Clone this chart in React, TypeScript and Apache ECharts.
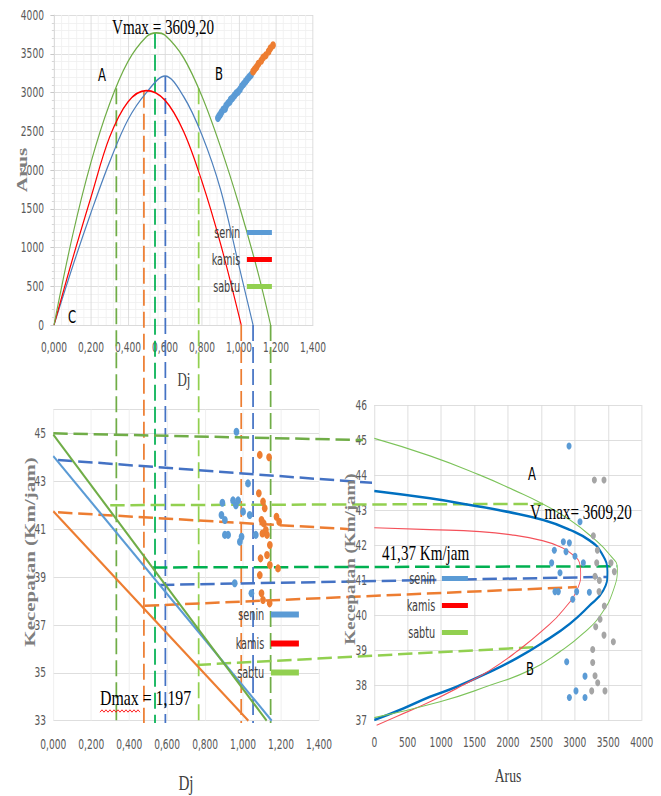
import React, { useEffect, useRef } from "react";
import * as echarts from "echarts";

// ---------------- data ----------------
// Panel 1 : Arus (flow) vs Dj (density)
const flowCurveSenin: number[][] = [[0, 0], [0.1, 750], [0.2, 1450], [0.3, 2100], [0.4, 2650], [0.5, 3000], [0.6, 3213], [0.7, 2950], [0.8, 2450], [0.9, 1750], [1.0, 760], [1.076, 0]];
const flowCurveKamis: number[][] = [[0, 0], [0.1, 850], [0.2, 1650], [0.3, 2420], [0.4, 2880], [0.499, 3024], [0.6, 2900], [0.7, 2500], [0.8, 1850], [0.9, 1050], [1.012, 0]];
const flowCurveSabtu: number[][] = [[0, 0], [0.1, 1150], [0.2, 2100], [0.3, 2850], [0.4, 3400], [0.5, 3720], [0.553, 3770], [0.6, 3740], [0.7, 3450], [0.8, 2950], [0.9, 2300], [1.0, 1550], [1.1, 700], [1.171, 0]];
const flowObsSenin: number[][] = [[0.886, 2670], [0.893, 2700], [0.9, 2720], [0.905, 2745], [0.915, 2780], [0.925, 2790], [0.93, 2830], [0.94, 2860], [0.95, 2880], [0.955, 2910], [0.965, 2930], [0.975, 2960], [0.985, 2990], [0.995, 3010], [1.005, 3040], [1.015, 3080], [1.025, 3110], [1.035, 3140], [1.045, 3170], [1.055, 3200], [1.065, 3225]];
const flowObsKamis: number[][] = [[1.076, 3270], [1.085, 3300], [1.095, 3330], [1.105, 3370], [1.12, 3410], [1.13, 3450], [1.145, 3480], [1.16, 3530], [1.17, 3570], [1.184, 3610]];

// Panel 2 : Kecepatan (speed) vs Dj
const speedLineSenin: number[][] = [[0, 44.05], [1.151, 33]];
const speedLineKamis: number[][] = [[0, 41.75], [1.028, 33]];
const speedLineSabtu: number[][] = [[0, 44.95], [1.124, 33]];
const speedObsSenin: number[][] = [[0.965, 45.07], [1.026, 42.91], [0.891, 42.1], [0.947, 42.2], [0.962, 42.0], [0.974, 42.2], [0.886, 41.59], [1.0, 41.73], [1.035, 41.59], [0.904, 41.38], [0.904, 40.76], [0.921, 40.76], [0.992, 40.68], [0.983, 40.47], [1.067, 40.76], [0.956, 38.74], [1.044, 38.32]];
const speedObsKamis: number[][] = [[1.088, 44.1], [1.137, 44.0], [1.083, 42.5], [1.105, 42.15], [1.114, 41.87], [1.097, 41.38], [1.109, 41.24], [1.12, 40.96], [1.102, 40.82], [1.126, 40.76], [1.176, 41.52], [1.19, 41.31], [1.141, 40.34], [1.126, 39.92], [1.092, 39.78], [1.184, 39.36], [1.141, 39.5], [1.088, 39.08], [1.097, 38.32], [1.105, 38.04], [1.14, 37.9]];

// Panel 3 : Kecepatan vs Arus
const vqCurveSenin: number[][] = [[0, 43.55], [833, 43.34], [1432, 43.15], [1980, 42.96], [2529, 42.72], [2928, 42.44], [3227, 42.13], [3402, 41.77], [3487, 41.25], [3427, 40.72], [3202, 40.25], [2928, 39.77], [2579, 39.3], [2130, 38.78], [1681, 38.35], [1232, 37.97], [833, 37.68], [434, 37.35], [0, 37.02]];
const vqCurveKamis: number[][] = [[0, 42.5], [833, 42.45], [1581, 42.39], [2080, 42.29], [2479, 42.15], [2778, 41.96], [2978, 41.72], [3077, 41.44], [3087, 41.2], [3052, 40.82], [2828, 40.16], [2529, 39.59], [2130, 38.97], [1731, 38.44], [1332, 38.02], [833, 37.54], [334, 37.12], [35, 36.87]];
const vqCurveSabtu: number[][] = [[0, 45.05], [833, 44.55], [1581, 44.0], [2080, 43.58], [2529, 43.17], [2928, 42.72], [3277, 42.2], [3527, 41.72], [3636, 41.34], [3576, 40.72], [3402, 40.06], [3127, 39.49], [2778, 38.97], [2329, 38.44], [1731, 38.01], [983, 37.54], [0, 37.09]];
const vqObsSenin: number[][] = [[2913, 44.83], [3077, 42.67], [2828, 42.1], [2918, 42.07], [2693, 41.86], [2868, 41.82], [3002, 41.69], [2653, 41.5], [3127, 41.5], [2778, 41.22], [2703, 40.68], [2753, 40.68], [3027, 40.68], [2968, 40.46], [3217, 40.66], [2878, 38.68], [3152, 38.27], [3017, 37.85], [2918, 37.66], [3152, 37.66]];
const vqObsSabtu: number[][] = [[3292, 43.86], [3436, 43.86], [3277, 42.27], [3337, 41.86], [3327, 41.5], [3541, 41.5], [3591, 41.25], [3302, 41.12], [3367, 41.0], [3362, 40.68], [3441, 40.27], [3377, 39.89], [3312, 39.68], [3436, 39.44], [3576, 39.25], [3267, 39.03], [3267, 38.66], [3302, 38.28], [3342, 38.08], [3252, 37.85], [3451, 37.85]];

// guide lines: vertical (Dj, Arus start) and horizontal (Dj,V in panel 2 -> Arus,V in panel 3)
const verticalGuideDj = [0.337, 0.486, 0.546, 0.602, 0.782, 1.012, 1.076, 1.171];
const verticalGuideArus = [3054, 3011, 3770, 3213, 3054, 0, 0, 0];
const verticalGuideColor = ["#70ad47", "#ed7d31", "#00b050", "#4472c4", "#92d050", "#ed7d31", "#4472c4", "#70ad47"];
const horizGuideDj = [0, 0.025, 0.3, 0.025, 0.525, 0.562, 0.482, 0.755];
const horizGuideV1 = [45.0, 43.89, 42.0, 41.7, 39.4, 38.67, 37.8, 35.33];
const horizGuideArus = [-170, -34, 2524, -365, 3633, 3479, 3030, 2446];
const horizGuideV2 = [45.0, 43.78, 43.18, 42.46, 41.4, 41.1, 40.81, 39.1];
const horizGuideColor = ["#70ad47", "#4472c4", "#92d050", "#ed7d31", "#00b050", "#4472c4", "#ed7d31", "#92d050"];

const legendNames = ["senin", "kamis", "sabtu"];

// ---------------- layout ----------------
const SX = 0.72;
const W = 661;
const H = 796;
const IW = W / SX;
const X = (v: number) => v / SX;
const SANS = "'Liberation Sans Narrow','Arial Narrow','DejaVu Sans Condensed',Roboto,sans-serif";
const SERIF = "'Liberation Serif','Times New Roman',serif";
const LBL = "#595959";
const GRID = "#d9d9d9";

const djFmt = (v: number) => v.toFixed(3).replace(".", ",");
const plainFmt = (v: number) => String(v);

function legendCfg(left: number, top: number, gap: number, w: number, h: number, colors: string[]) {
  return {
    orient: "vertical",
    left: X(left),
    top,
    align: "right",
    itemWidth: X(w),
    itemHeight: h,
    itemGap: gap,
    selectedMode: false,
    formatter: (n: string) => n + " ",
    textStyle: { fontSize: 15, color: "#404040", fontFamily: SANS },
    data: legendNames.map((n, i) => ({ name: n, icon: "rect", itemStyle: { color: colors[i], borderWidth: 0 } })),
  };
}

function txt(x: number, y: number, text: string, size: number, opts: any = {}) {
  return {
    type: "text",
    x: X(x),
    y,
    rotation: opts.rot || 0,
    z: 50,
    style: {
      text,
      fontSize: size,
      fontFamily: opts.family || SERIF,
      fontWeight: opts.weight || "normal",
      fill: opts.color || "#000",
      textAlign: opts.align || "left",
      textVerticalAlign: "middle",
    },
  };
}

export default function App() {
  const ref = useRef<HTMLDivElement>(null);
  useEffect(() => {
    const chart = echarts.init(ref.current!, null, { renderer: "svg" });
    const axisLabel = (extra: any = {}) => ({ fontSize: 14, color: LBL, fontFamily: SANS, ...extra });
    const line = (name: string, data: number[][], xi: number, color: string, width: number, smooth: any, extra: any = {}) => ({
      type: "line", name, data, xAxisIndex: xi, yAxisIndex: xi, symbol: "none", smooth, lineStyle: { color, width }, itemStyle: { color }, ...extra,
    });
    const scatter = (name: string, data: number[][], xi: number, color: string, size: number) => ({
      type: "scatter", name, data, xAxisIndex: xi, yAxisIndex: xi, symbolSize: size, itemStyle: { color, opacity: 1 }, z: 4,
    });
    chart.setOption({
      animation: false,
      backgroundColor: "#fff",
      grid: [
        { left: X(54), top: 15, width: X(259), height: 310 },
        { left: X(53.3), top: 409.4, width: X(265.7), height: 311.3 },
        { left: X(374.3), top: 405, width: X(267.4), height: 315.7 },
      ],
      xAxis: [
        {
          gridIndex: 0, type: "value", min: 0, max: 1.4, interval: 0.2,
          axisLabel: axisLabel({ formatter: djFmt, margin: 15 }),
          axisLine: { show: true, lineStyle: { color: GRID } }, axisTick: { show: false },
          splitLine: { show: true, lineStyle: { color: GRID } },
          minorTick: { show: false, splitNumber: 5 }, minorSplitLine: { show: true, lineStyle: { color: "#f0f0f0" } },
        },
        {
          gridIndex: 1, type: "value", min: 0, max: 1.4, interval: 0.2,
          axisLabel: axisLabel({ formatter: djFmt, margin: 17 }),
          axisLine: { show: false }, axisTick: { show: false },
          splitLine: { show: true, lineStyle: { color: "#ececec" } },
        },
        {
          gridIndex: 2, type: "value", min: 0, max: 4000, interval: 500,
          axisLabel: axisLabel({ margin: 15, formatter: plainFmt }),
          axisLine: { show: false }, axisTick: { show: false },
          splitLine: { show: true, lineStyle: { color: GRID } },
        },
      ],
      yAxis: [
        {
          gridIndex: 0, type: "value", min: 0, max: 4000, interval: 500,
          axisLabel: axisLabel({ margin: 14, formatter: plainFmt }),
          axisLine: { show: true, lineStyle: { color: GRID } },
          axisTick: { show: true, length: 5, lineStyle: { color: "#bfbfbf" } },
          minorTick: { show: true, splitNumber: 5, length: 3, lineStyle: { color: "#d0d0d0" } },
          splitLine: { show: true, lineStyle: { color: GRID } },
          minorSplitLine: { show: true, lineStyle: { color: "#f0f0f0" } },
        },
        {
          gridIndex: 1, type: "value", min: 33, max: 46, interval: 2,
          axisLabel: axisLabel({ margin: 10, showMaxLabel: false, formatter: plainFmt }),
          axisLine: { show: false }, axisTick: { show: false },
          splitLine: { show: true, lineStyle: { color: GRID } },
        },
        {
          gridIndex: 2, type: "value", min: 37, max: 46, interval: 1,
          axisLabel: axisLabel({ margin: 10, formatter: plainFmt }),
          axisLine: { show: false }, axisTick: { show: false },
          splitLine: { show: true, lineStyle: { color: GRID } },
        },
      ],
      legend: [
        legendCfg(208, 220, 12, 25, 5, ["#5b9bd5", "#ff0000", "#92d050"]),
        legendCfg(232, 602, 14, 28, 6, ["#5b9bd5", "#ff0000", "#92d050"]),
        legendCfg(403, 566, 12, 26, 5, ["#5b9bd5", "#ff0000", "#92d050"]),
      ],
      series: [
        line("senin", flowCurveSenin, 0, "#4f81bd", 1.6, 0.35),
        line("kamis", flowCurveKamis, 0, "#ff0000", 1.6, 0.35),
        line("sabtu", flowCurveSabtu, 0, "#70ad47", 1.6, 0.35),
        scatter("senin data", flowObsSenin, 0, "#5b9bd5", 8),
        scatter("kamis data", flowObsKamis, 0, "#ed7d31", 8),
        line("senin", speedLineSenin, 1, "#5b9bd5", 2.5, false),
        line("kamis", speedLineKamis, 1, "#ed7d31", 2.5, false),
        line("sabtu", speedLineSabtu, 1, "#70ad47", 2.5, false),
        scatter("senin data", speedObsSenin, 1, "#5b9bd5", 8),
        scatter("kamis data", speedObsKamis, 1, "#ed7d31", 8),
        line("senin", vqCurveSenin, 2, "#0070c0", 2.6, true),
        line("kamis", vqCurveKamis, 2, "#f4515a", 1.2, true, { clip: false }),
        line("sabtu", vqCurveSabtu, 2, "#7cc35a", 1.2, true),
        scatter("senin data", vqObsSenin, 2, "#5b9bd5", 7),
        scatter("sabtu data", vqObsSabtu, 2, "#a5a5a5", 7),
      ],
    });

    const p = (g: number, x: number, y: number) => chart.convertToPixel({ gridIndex: g } as any, [x, y]) as number[];
    const guides: any[] = [];
    const yBottom = p(1, 0, 32.9)[1];
    verticalGuideDj.forEach((d, i) => {
      const [x, y] = p(0, d, verticalGuideArus[i]);
      guides.push({
        type: "line", z: 3, shape: { x1: x, y1: y, x2: x, y2: yBottom },
        style: { stroke: verticalGuideColor[i], lineWidth: 2.4, lineDash: [16, 6] },
      });
    });
    horizGuideDj.forEach((d, i) => {
      const a = p(1, d, horizGuideV1[i]);
      const b = p(2, horizGuideArus[i], horizGuideV2[i]);
      guides.push({
        type: "line", z: 3, shape: { x1: a[0], y1: a[1], x2: b[0], y2: b[1] },
        style: { stroke: horizGuideColor[i], lineWidth: 2.5, lineDash: [20, 8] },
      });
    });

    const squiggle: number[][] = [];
    for (let k = 0; k <= 20; k++) squiggle.push([X(100 + k * 2), 711 + (k % 2 ? -1.2 : 1.2)]);

    const texts = [
      txt(112, 27, "Vmax = 3609,20", 21),
      txt(98, 75, "A", 18, { family: SANS }),
      txt(215, 74, "B", 18, { family: SANS }),
      txt(68, 317, "C", 18, { family: SANS }),
      txt(22, 170, "Arus", 21, { rot: Math.PI / 2, weight: "bold", color: "#7f7f7f", align: "center" }),
      txt(184, 380, "Dj", 18, { align: "center", color: "#404040" }),
      txt(30, 552, "Kecepatan (Km/jam)", 21, { rot: Math.PI / 2, weight: "bold", color: "#7f7f7f", align: "center" }),
      txt(186, 783, "Dj", 21, { align: "center", color: "#404040" }),
      txt(100, 698, "Dmax = 1,197", 22),
      txt(350, 559, "Kecepatan (Km/jam)", 19, { rot: Math.PI / 2, weight: "bold", color: "#7f7f7f", align: "center" }),
      txt(508, 776, "Arus", 19, { align: "center", color: "#404040" }),
      txt(528, 474, "A", 18, { family: SANS }),
      txt(526, 669, "B", 18, { family: SANS }),
      txt(530, 512, "V max= 3609,20", 21),
      txt(382, 553, "41,37 Km/jam", 21),
    ];

    chart.setOption({
      graphic: [
        ...guides,
        { type: "polyline", z: 50, shape: { points: squiggle }, style: { stroke: "#ff0000", fill: null, lineWidth: 1 } },
        ...texts,
      ],
    });
    return () => chart.dispose();
  }, []);
  return (
    <div style={{ position: "fixed", left: 0, top: 0, width: W, height: H, overflow: "hidden", background: "#fff" }}>
      <div ref={ref} style={{ width: IW, height: H, transform: `scaleX(${SX})`, transformOrigin: "0 0" }} />
    </div>
  );
}
